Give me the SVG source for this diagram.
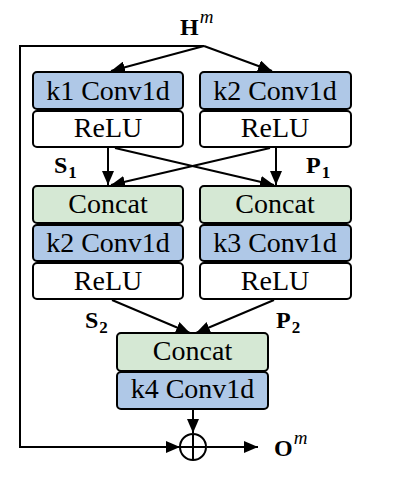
<svg xmlns="http://www.w3.org/2000/svg" width="415" height="478" viewBox="0 0 415 478">
<defs>
<marker id="ah" markerUnits="userSpaceOnUse" markerWidth="15" markerHeight="12" refX="14" refY="6" orient="auto">
<path d="M0,0 L14,6 L0,12 Z" fill="#000"/>
</marker>
<style>
.box{stroke:#000;stroke-width:2;}
.conv{fill:#AFC8E7;}
.relu{fill:#FFFFFF;}
.cat{fill:#D5E8D4;}
.t{font-family:"Liberation Serif","Times New Roman",serif;font-size:28px;fill:#000;text-anchor:middle;}
.lb{font-family:"Liberation Serif","Times New Roman",serif;font-weight:bold;fill:#000;}
.ln{fill:none;stroke:#000;stroke-width:2;}
.ar{fill:none;stroke:#000;stroke-width:2;marker-end:url(#ah);}
</style>
</defs>
<rect width="415" height="478" fill="#fff"/>
<g id="connectors">
<polyline class="ar" points="204,46 20,46 20,447 180,447"/>
<line class="ar" x1="204" y1="46" x2="111" y2="71"/>
<line class="ar" x1="204" y1="46" x2="272" y2="71"/>
<line class="ar" x1="108" y1="148" x2="108" y2="185"/>
<line class="ar" x1="276" y1="148" x2="276" y2="185"/>
<line class="ar" x1="115" y1="148" x2="274" y2="185"/>
<line class="ar" x1="270" y1="148" x2="111" y2="185"/>
<line class="ar" x1="112" y1="300" x2="190" y2="333"/>
<line class="ar" x1="274" y1="300" x2="196" y2="333"/>
<line class="ar" x1="193" y1="409" x2="193" y2="433"/>
<line class="ar" x1="207" y1="447" x2="258" y2="447"/>
</g>
<g id="label-H">
<text class="lb" x="180" y="35" font-size="24">H<tspan font-style="italic" font-weight="normal" font-size="19" dx="1" dy="-12">m</tspan></text>
</g>
<g id="k1conv"><rect class="box conv" x="33" y="72" width="150" height="37" rx="4"/><text class="t" x="108" y="100">k1 Conv1d</text></g>
<g id="relu1"><rect class="box relu" x="33" y="111" width="150" height="36" rx="4"/><text class="t" x="108" y="137">ReLU</text></g>
<g id="k2conv"><rect class="box conv" x="200" y="72" width="151" height="37" rx="4"/><text class="t" x="275" y="100">k2 Conv1d</text></g>
<g id="relu2"><rect class="box relu" x="200" y="111" width="151" height="36" rx="4"/><text class="t" x="275" y="137">ReLU</text></g>
<g id="label-S1"><text class="lb" x="54" y="173" font-size="24">S<tspan font-size="17" dx="1" dy="5">1</tspan></text></g>
<g id="label-P1"><text class="lb" x="306" y="173" font-size="24">P<tspan font-size="17" dx="1" dy="5">1</tspan></text></g>
<g id="concat1"><rect class="box cat" x="33" y="186" width="150" height="37" rx="4"/><text class="t" x="108" y="213">Concat</text></g>
<g id="k2conv-b"><rect class="box conv" x="33" y="225" width="150" height="36" rx="4"/><text class="t" x="108" y="252">k2 Conv1d</text></g>
<g id="relu3"><rect class="box relu" x="33" y="263" width="150" height="36" rx="4"/><text class="t" x="108" y="290">ReLU</text></g>
<g id="concat2"><rect class="box cat" x="200" y="186" width="151" height="37" rx="4"/><text class="t" x="275" y="213">Concat</text></g>
<g id="k3conv"><rect class="box conv" x="200" y="225" width="151" height="36" rx="4"/><text class="t" x="275" y="252">k3 Conv1d</text></g>
<g id="relu4"><rect class="box relu" x="200" y="263" width="151" height="36" rx="4"/><text class="t" x="275" y="290">ReLU</text></g>
<g id="label-S2"><text class="lb" x="85" y="328" font-size="24">S<tspan font-size="17" dx="1" dy="5">2</tspan></text></g>
<g id="label-P2"><text class="lb" x="276" y="328" font-size="24">P<tspan font-size="17" dx="1" dy="5">2</tspan></text></g>
<g id="concat3"><rect class="box cat" x="117" y="333" width="151" height="38" rx="4"/><text class="t" x="192.5" y="360">Concat</text></g>
<g id="k4conv"><rect class="box conv" x="117" y="372" width="151" height="37" rx="4"/><text class="t" x="192.5" y="398">k4 Conv1d</text></g>
<g id="sum">
<circle cx="193" cy="447" r="13" fill="#fff" stroke="#000" stroke-width="2"/>
<line class="ln" x1="180" y1="447" x2="206" y2="447"/>
<line class="ln" x1="193" y1="434" x2="193" y2="460"/>
</g>
<g id="label-O"><text class="lb" x="274" y="456" font-size="24">O<tspan font-style="italic" font-weight="normal" font-size="19" dx="1" dy="-12">m</tspan></text></g>
</svg>
